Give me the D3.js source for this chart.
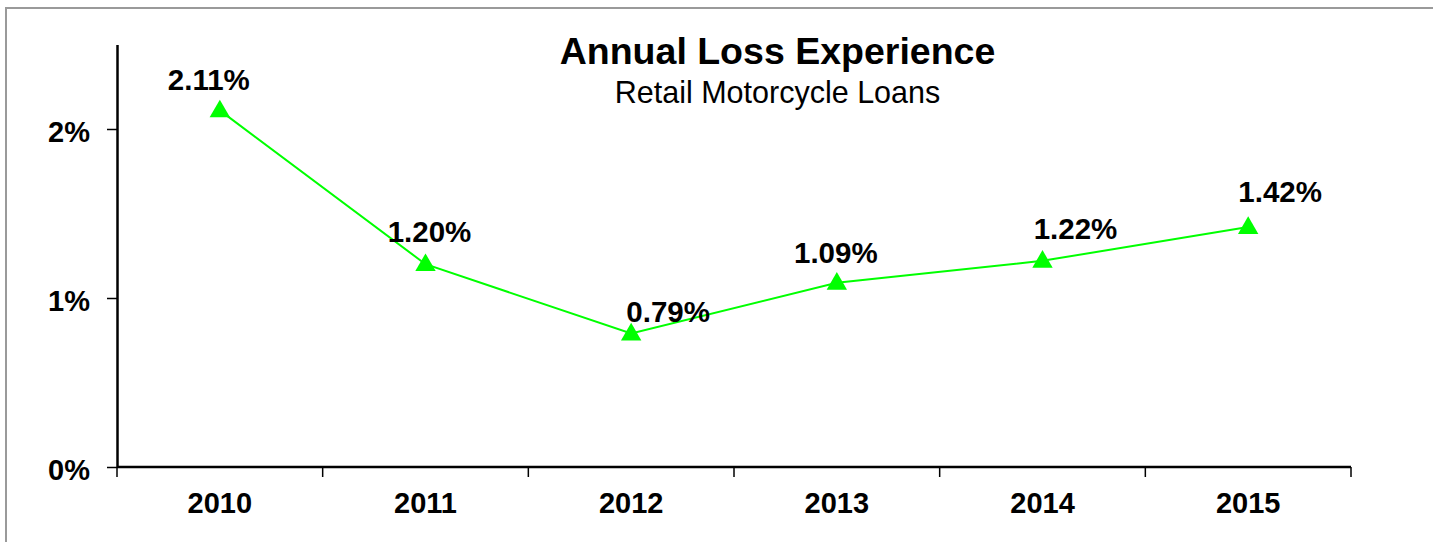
<!DOCTYPE html>
<html>
<head>
<meta charset="utf-8">
<script src="https://cdn.jsdelivr.net/npm/d3@7"></script>
<style>
  html, body { margin: 0; padding: 0; background: #fff; }
  svg { display: block; font-family: "Liberation Sans", Arial, sans-serif; }
</style>
</head>
<body>
<svg id="chart" width="1433" height="542"></svg>
<script>
// Annual loss rate on retail motorcycle loans, percent
const years = ["2010", "2011", "2012", "2013", "2014", "2015"];
const lossRates = [2.11, 1.20, 0.79, 1.09, 1.22, 1.42];
const yTickValues = [0, 1, 2];

const titleText = "Annual Loss Experience";
const subtitleText = "Retail Motorcycle Loans";

// Layout
const W = 1433, H = 542;
const plot = { left: 117, right: 1351, top: 44.5, bottom: 467 };
// Per-label nudges (px) relative to the default spot above each marker
const labelNudgeX = [-11, 4, 37, -1, 33, 32];
const labelNudgeY = [0, -2, 8.5, 0, -2, -5];

const svg = d3.select("#chart");

// Outer frame
svg.append("rect")
  .attr("x", 6).attr("y", 8)
  .attr("width", W + 20).attr("height", H + 20)
  .attr("fill", "none")
  .attr("stroke", "#9a9a9a")
  .attr("stroke-width", 2);

const x = d3.scaleBand().domain(years).range([plot.left, plot.right]).padding(0);
const y = d3.scaleLinear().domain([0, 2.5]).range([plot.bottom, plot.top]);

// Title
svg.append("text")
  .attr("x", 777.5).attr("y", 64)
  .attr("text-anchor", "middle")
  .attr("font-size", 37.5).attr("font-weight", "bold")
  .attr("fill", "#000")
  .text(titleText);
svg.append("text")
  .attr("x", 777.5).attr("y", 103)
  .attr("text-anchor", "middle")
  .attr("font-size", 30.5)
  .attr("fill", "#000")
  .text(subtitleText);

// Y axis
const yAxis = d3.axisLeft(y)
  .tickValues(yTickValues)
  .tickFormat(d => d + "%")
  .tickSize(10)
  .tickSizeOuter(0)
  .tickPadding(17);
const gy = svg.append("g")
  .attr("transform", `translate(${plot.left},0)`)
  .call(yAxis);
gy.select(".domain").attr("stroke", "#000").attr("stroke-width", 2.5);
gy.selectAll(".tick line").attr("stroke", "#000").attr("stroke-width", 1.5);
gy.selectAll(".tick text")
  .attr("font-size", 29).attr("font-weight", "bold")
  .attr("font-family", "Liberation Sans, Arial, sans-serif")
  .attr("fill", "#000")
  .attr("dy", "0.42em");

// X axis: labels centred in each band, tick marks on band boundaries
const xAxis = d3.axisBottom(x).tickSize(0).tickSizeOuter(0).tickPadding(0);
const gx = svg.append("g")
  .attr("transform", `translate(0,${plot.bottom})`)
  .call(xAxis);
gx.select(".domain").remove();
gx.selectAll(".tick text")
  .attr("font-size", 29).attr("font-weight", "bold")
  .attr("font-family", "Liberation Sans, Arial, sans-serif")
  .attr("fill", "#000")
  .attr("dy", null)
  .attr("y", 46);

const boundaries = years.map(d => x(d)).concat([x.range()[1]]);
svg.append("line")
  .attr("x1", plot.left).attr("x2", plot.right)
  .attr("y1", plot.bottom).attr("y2", plot.bottom)
  .attr("stroke", "#000").attr("stroke-width", 2.5);
svg.append("g").selectAll("line")
  .data(boundaries)
  .join("line")
  .attr("x1", d => d).attr("x2", d => d)
  .attr("y1", plot.bottom).attr("y2", plot.bottom + 10)
  .attr("stroke", "#000").attr("stroke-width", 1.5);

// Series line
const cx = i => x(years[i]) + x.bandwidth() / 2;
const line = d3.line()
  .x((d, i) => cx(i))
  .y(d => y(d));
svg.append("path")
  .datum(lossRates)
  .attr("d", line)
  .attr("fill", "none")
  .attr("stroke", "#00ff00")
  .attr("stroke-width", 2);

// Triangle markers
const tri = d3.symbol().type(d3.symbolTriangle).size(180);
svg.append("g").selectAll("path")
  .data(lossRates)
  .join("path")
  .attr("d", tri)
  .attr("transform", (d, i) => `translate(${cx(i)},${y(d) + 1})`)
  .attr("fill", "#00ff00");

// Value labels
svg.append("g").selectAll("text")
  .data(lossRates)
  .join("text")
  .attr("x", (d, i) => cx(i) + labelNudgeX[i])
  .attr("y", (d, i) => y(d) - 20 + labelNudgeY[i])
  .attr("text-anchor", "middle")
  .attr("font-size", 29.5).attr("font-weight", "bold")
  .attr("fill", "#000")
  .text(d => d.toFixed(2) + "%");
</script>
</body>
</html>
